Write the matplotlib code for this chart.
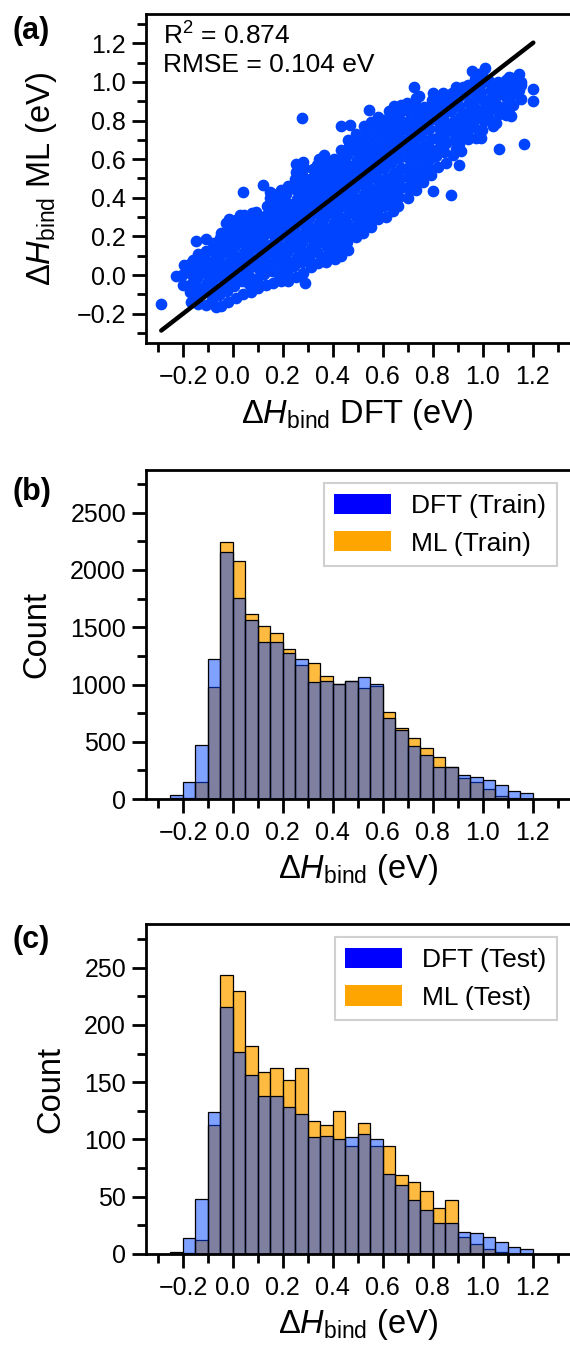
import matplotlib
matplotlib.use('Agg')
import matplotlib.pyplot as plt
from matplotlib.patches import Patch
from matplotlib.ticker import MultipleLocator

plt.rcParams['font.family'] = ['Liberation Sans', 'DejaVu Sans']
plt.rcParams['mathtext.fontset'] = 'custom'
plt.rcParams['mathtext.rm'] = 'Liberation Sans'
plt.rcParams['mathtext.it'] = 'Liberation Sans:italic'
plt.rcParams['mathtext.bf'] = 'Liberation Sans:bold'

# (DFT, ML) pairs
scatter_pts = [
    (-0.287, -0.149), (-0.226, -0.007), (0.040, 0.432), (0.120, 0.467), (0.277, 0.814),
    (0.287, -0.041), (0.433, 0.771), (0.467, 0.779), (0.544, 0.856), (0.593, 0.762),
    (0.727, 0.973), (0.720, 0.446), (0.800, 0.437), (0.873, 0.412), (0.907, 0.571),
    (0.957, 1.056), (1.010, 1.073), (1.067, 0.651), (1.167, 0.680), (1.200, 0.963),
    (1.203, 0.900), (1.153, 0.985), (1.147, 1.041), (1.107, 1.024), (1.113, 0.822),
    (-0.146, 0.176), (-0.109, 0.186), (0.253, 0.574), (0.280, 0.583), (0.363, 0.620),
    (-0.198, -0.05), (-0.204, 0.0), (-0.195, 0.05),
    (-0.168, -0.14), (-0.173, -0.09), (-0.165, -0.04), (-0.171, 0.01), (-0.166, 0.06), (-0.160, 0.08),
    (-0.138, -0.15), (-0.144, -0.115), (-0.135, -0.065), (-0.142, -0.015), (-0.136, 0.035), (-0.145, 0.085), (-0.139, 0.11),
    (-0.108, -0.155), (-0.114, -0.09), (-0.105, -0.04), (-0.112, 0.01), (-0.106, 0.06), (-0.115, 0.10), (-0.109, 0.125),
    (-0.066, -0.166), (-0.083, -0.13), (-0.077, -0.08), (-0.084, -0.03), (-0.079, 0.02), (-0.083, 0.07), (-0.076, 0.12), (-0.081, 0.165),
    (-0.048, -0.16), (-0.054, -0.105), (-0.045, -0.055), (-0.052, -0.005), (-0.046, 0.045), (-0.055, 0.095), (-0.049, 0.145), (-0.051, 0.19), (-0.047, 0.22),
    (-0.018, -0.14), (-0.024, -0.08), (-0.015, -0.03), (-0.022, 0.02), (-0.016, 0.07), (-0.025, 0.12), (-0.019, 0.17), (-0.021, 0.22), (-0.027, 0.27), (-0.017, 0.29),
    (0.012, -0.12), (0.006, -0.055), (0.015, -0.005), (0.008, 0.045), (0.014, 0.095), (0.005, 0.145), (0.011, 0.195), (0.009, 0.245), (0.013, 0.285), (0.027, 0.309),
    (0.042, -0.10), (0.036, -0.03), (0.045, 0.02), (0.038, 0.07), (0.044, 0.12), (0.035, 0.17), (0.041, 0.22), (0.039, 0.27), (0.046, 0.31),
    (0.072, -0.085), (0.066, -0.045), (0.066, -0.005), (0.075, 0.045), (0.068, 0.095), (0.074, 0.145), (0.065, 0.195), (0.071, 0.245), (0.069, 0.29), (0.075, 0.32),
    (0.102, -0.065), (0.096, -0.02), (0.105, 0.03), (0.098, 0.08), (0.104, 0.13), (0.095, 0.18), (0.101, 0.23), (0.099, 0.28), (0.093, 0.327),
    (0.132, -0.05), (0.126, 0.005), (0.135, 0.055), (0.128, 0.105), (0.134, 0.155), (0.125, 0.205), (0.131, 0.255), (0.129, 0.305), (0.136, 0.355), (0.147, 0.40), (0.147, 0.429),
    (0.162, -0.04), (0.156, 0.02), (0.165, 0.07), (0.158, 0.12), (0.164, 0.17), (0.155, 0.22), (0.161, 0.27), (0.159, 0.32), (0.166, 0.37), (0.160, 0.42),
    (0.192, -0.03), (0.186, 0.0), (0.195, 0.045), (0.188, 0.095), (0.194, 0.145), (0.185, 0.195), (0.191, 0.245), (0.189, 0.295), (0.196, 0.345), (0.190, 0.395), (0.193, 0.44),
    (0.222, -0.03), (0.216, 0.02), (0.225, 0.07), (0.218, 0.12), (0.224, 0.17), (0.215, 0.22), (0.221, 0.27), (0.219, 0.32), (0.226, 0.37), (0.213, 0.42), (0.220, 0.463),
    (0.252, -0.01), (0.246, 0.045), (0.255, 0.095), (0.248, 0.145), (0.254, 0.195), (0.245, 0.245), (0.251, 0.295), (0.249, 0.345), (0.256, 0.395), (0.250, 0.445), (0.247, 0.495), (0.253, 0.535),
    (0.282, 0.01), (0.276, 0.07), (0.285, 0.12), (0.278, 0.17), (0.284, 0.22), (0.275, 0.27), (0.281, 0.32), (0.279, 0.37), (0.286, 0.42), (0.280, 0.47), (0.277, 0.52), (0.283, 0.555),
    (0.312, 0.04), (0.306, 0.095), (0.315, 0.145), (0.308, 0.195), (0.314, 0.245), (0.305, 0.295), (0.311, 0.345), (0.309, 0.395), (0.316, 0.445), (0.310, 0.495), (0.320, 0.549),
    (0.342, 0.06), (0.336, 0.12), (0.345, 0.17), (0.338, 0.22), (0.344, 0.27), (0.335, 0.32), (0.341, 0.37), (0.339, 0.42), (0.346, 0.47), (0.340, 0.52), (0.337, 0.57), (0.343, 0.60),
    (0.372, 0.07), (0.366, 0.095), (0.375, 0.145), (0.368, 0.195), (0.374, 0.245), (0.365, 0.295), (0.371, 0.345), (0.369, 0.395), (0.376, 0.445), (0.370, 0.495), (0.367, 0.545), (0.373, 0.59),
    (0.407, 0.082), (0.396, 0.12), (0.405, 0.17), (0.398, 0.22), (0.404, 0.27), (0.395, 0.32), (0.401, 0.37), (0.399, 0.42), (0.406, 0.47), (0.400, 0.52), (0.397, 0.57), (0.403, 0.60),
    (0.432, 0.10), (0.426, 0.145), (0.435, 0.195), (0.428, 0.245), (0.434, 0.295), (0.425, 0.345), (0.431, 0.395), (0.429, 0.445), (0.436, 0.495), (0.430, 0.545), (0.427, 0.595), (0.433, 0.645),
    (0.462, 0.13), (0.456, 0.17), (0.465, 0.22), (0.458, 0.27), (0.464, 0.32), (0.455, 0.37), (0.461, 0.42), (0.459, 0.47), (0.466, 0.52), (0.460, 0.57), (0.457, 0.62), (0.463, 0.67), (0.459, 0.70),
    (0.493, 0.198), (0.486, 0.245), (0.495, 0.295), (0.488, 0.345), (0.494, 0.395), (0.485, 0.445), (0.491, 0.495), (0.489, 0.545), (0.496, 0.595), (0.490, 0.645), (0.487, 0.695), (0.493, 0.73),
    (0.522, 0.22), (0.516, 0.27), (0.525, 0.32), (0.518, 0.37), (0.524, 0.42), (0.515, 0.47), (0.521, 0.52), (0.519, 0.57), (0.526, 0.62), (0.520, 0.67), (0.517, 0.72), (0.523, 0.77),
    (0.552, 0.25), (0.546, 0.295), (0.555, 0.345), (0.548, 0.395), (0.554, 0.445), (0.545, 0.495), (0.551, 0.545), (0.549, 0.595), (0.556, 0.645), (0.550, 0.695), (0.547, 0.745), (0.553, 0.79),
    (0.580, 0.292), (0.576, 0.33), (0.585, 0.38), (0.578, 0.43), (0.584, 0.48), (0.575, 0.53), (0.581, 0.58), (0.579, 0.63), (0.586, 0.68), (0.580, 0.73), (0.577, 0.78), (0.583, 0.82),
    (0.612, 0.30), (0.606, 0.355), (0.615, 0.405), (0.608, 0.455), (0.614, 0.505), (0.605, 0.555), (0.611, 0.605), (0.609, 0.655), (0.616, 0.705), (0.610, 0.755), (0.607, 0.805), (0.627, 0.85),
    (0.642, 0.33), (0.636, 0.38), (0.645, 0.43), (0.638, 0.48), (0.644, 0.53), (0.635, 0.58), (0.641, 0.63), (0.639, 0.68), (0.646, 0.73), (0.640, 0.78), (0.637, 0.83), (0.647, 0.873),
    (0.660, 0.36), (0.666, 0.405), (0.675, 0.455), (0.668, 0.505), (0.674, 0.555), (0.665, 0.605), (0.671, 0.655), (0.669, 0.705), (0.676, 0.755), (0.670, 0.805), (0.673, 0.85), (0.673, 0.88),
    (0.702, 0.40), (0.696, 0.45), (0.705, 0.50), (0.698, 0.55), (0.704, 0.60), (0.695, 0.65), (0.701, 0.70), (0.699, 0.75), (0.706, 0.80), (0.700, 0.85), (0.697, 0.89),
    (0.732, 0.44), (0.726, 0.49), (0.735, 0.535), (0.728, 0.585), (0.734, 0.635), (0.725, 0.685), (0.731, 0.735), (0.729, 0.785), (0.736, 0.835), (0.730, 0.885), (0.733, 0.915),
    (0.762, 0.48), (0.756, 0.52), (0.765, 0.57), (0.758, 0.62), (0.764, 0.67), (0.755, 0.72), (0.761, 0.77), (0.759, 0.82), (0.766, 0.87), (0.747, 0.925),
    (0.792, 0.52), (0.786, 0.555), (0.795, 0.605), (0.788, 0.655), (0.794, 0.705), (0.785, 0.755), (0.791, 0.805), (0.789, 0.855), (0.796, 0.905), (0.800, 0.942),
    (0.822, 0.56), (0.813, 0.617), (0.825, 0.66), (0.818, 0.71), (0.824, 0.76), (0.815, 0.81), (0.821, 0.86), (0.819, 0.90), (0.827, 0.925),
    (0.852, 0.58), (0.846, 0.635), (0.855, 0.685), (0.848, 0.735), (0.854, 0.785), (0.845, 0.835), (0.851, 0.885), (0.840, 0.945), (0.849, 0.93),
    (0.882, 0.62), (0.893, 0.651), (0.885, 0.70), (0.878, 0.75), (0.884, 0.80), (0.875, 0.85), (0.881, 0.90), (0.879, 0.94), (0.893, 0.973),
    (0.912, 0.64), (0.906, 0.68), (0.915, 0.725), (0.908, 0.775), (0.914, 0.825), (0.905, 0.875), (0.911, 0.925), (0.920, 0.975),
    (0.940, 0.703), (0.936, 0.74), (0.945, 0.79), (0.938, 0.84), (0.944, 0.89), (0.935, 0.94), (0.941, 0.985),
    (0.972, 0.71), (0.966, 0.765), (0.975, 0.815), (0.968, 0.865), (0.974, 0.915), (0.965, 0.965), (0.957, 0.981), (0.971, 1.015), (0.978, 1.04),
    (0.993, 0.711), (0.996, 0.75), (1.005, 0.80), (0.998, 0.85), (1.004, 0.90), (0.995, 0.95), (1.001, 1.00), (0.999, 1.045),
    (1.040, 0.771), (1.026, 0.81), (1.035, 0.86), (1.028, 0.91), (1.034, 0.96), (1.025, 1.005),
    (1.053, 0.788), (1.066, 0.835), (1.055, 0.885), (1.064, 0.935), (1.058, 0.975), (1.062, 1.00),
    (1.092, 0.83), (1.086, 0.87), (1.095, 0.92), (1.088, 0.97), (1.094, 1.01),
    (1.107, 0.839), (1.122, 0.88), (1.115, 0.93), (1.124, 0.98), (1.118, 1.02),
    (1.152, 0.91), (1.146, 0.96), (1.155, 1.00),
]
dft_vals = [p[0] for p in scatter_pts]
ml_vals = [p[1] for p in scatter_pts]
r2_text = 'R$^2$ = 0.874\nRMSE = 0.104 eV'

# histogram bins (left edges, width 0.05 eV)
bin_left = [-0.25, -0.20, -0.15, -0.10, -0.05, 0.00, 0.05, 0.10, 0.15, 0.20,
            0.25, 0.30, 0.35, 0.40, 0.45, 0.50, 0.55, 0.60, 0.65, 0.70,
            0.75, 0.80, 0.85, 0.90, 0.95, 1.00, 1.05, 1.10, 1.15]
bin_width = 0.05

train_dft = [35, 151, 471, 1225, 2160, 1758, 1560, 1371, 1374, 1278,
             1219, 1022, 1033, 1001, 1027, 1062, 1001, 704, 600, 466,
             381, 276, 280, 212, 195, 163, 119, 73, 49]
train_ml = [5, 10, 151, 981, 2241, 2081, 1612, 1513, 1449, 1307,
            1170, 1184, 1077, 1001, 1027, 972, 990, 757, 623, 535,
            442, 370, 276, 180, 145, 84, 26, 12, 3]
test_dft = [2, 14, 48, 124, 216, 176, 156, 138, 138, 128,
            122, 102, 103, 100, 102, 105, 100, 70, 60, 47,
            38, 27, 27, 19, 18, 15, 10, 6, 4]
test_ml = [0, 1, 12, 113, 244, 230, 182, 159, 162, 152,
           162, 116, 113, 125, 94, 114, 94, 94, 69, 63,
           55, 40, 47, 15, 9, 4, 2, 0, 0]

blue = '#0044ff'
blue_fill = (0.0, 0.27, 1.0, 0.5)
orange_fill = (1.0, 0.647, 0.0, 0.75)
hlab = r'$\Delta \mathit{H}_\mathrm{bind}$'

fs_tick = 18
fs_lab = 23.5
fs_text = 19

fig = plt.figure(figsize=(5.7, 13.45), dpi=100)


def style_axes(ax, ymaj, ymin):
    ax.spines['right'].set_visible(False)
    for s in ['left', 'bottom', 'top']:
        ax.spines[s].set_linewidth(2.0)
    ax.xaxis.set_major_locator(MultipleLocator(0.2))
    ax.xaxis.set_minor_locator(MultipleLocator(0.1))
    ax.yaxis.set_major_locator(MultipleLocator(ymaj))
    ax.yaxis.set_minor_locator(MultipleLocator(ymin))
    ax.tick_params(which='major', length=10, width=2.0, labelsize=fs_tick, pad=4)
    ax.tick_params(axis='x', which='major', pad=6)
    ax.tick_params(which='minor', length=6.5, width=2.0)
    ax.set_xlim(-0.35, 1.35)


# (a) parity plot
ax1 = fig.add_axes([0.2553, 0.7452, 0.7447, 0.2442])
ax1.scatter(dft_vals, ml_vals, s=55, color=blue, zorder=2)
lo, hi = min(dft_vals), max(dft_vals)
ax1.plot([lo, hi], [lo, hi], color='black', lw=3.2, solid_capstyle='round', zorder=3)
style_axes(ax1, 0.2, 0.1)
ax1.set_ylim(-0.35, 1.35)
ax1.set_xlabel(hlab + ' DFT (eV)', fontsize=fs_lab, labelpad=6)
ax1.set_ylabel(hlab + ' ML (eV)', fontsize=fs_lab, labelpad=13)
ax1.text(0.04, 0.975, r2_text, transform=ax1.transAxes, ha='left', va='top',
         fontsize=fs_text, linespacing=1.15)


def hist_panel(rect, dft, ml, tag, ymaj, ymin, ytop):
    ax = fig.add_axes(rect)
    ax.bar(bin_left, ml, width=bin_width, align='edge', facecolor=orange_fill,
           edgecolor='black', linewidth=0.9)
    ax.bar(bin_left, dft, width=bin_width, align='edge', facecolor=blue_fill,
           edgecolor='black', linewidth=0.9)
    style_axes(ax, ymaj, ymin)
    ax.set_ylim(0, ytop)
    ax.set_xlabel(hlab + ' (eV)', fontsize=fs_lab, labelpad=5)
    ax.set_ylabel('Count', fontsize=fs_lab, labelpad=13)
    handles = [Patch(facecolor='blue', label='DFT (%s)' % tag),
               Patch(facecolor='orange', label='ML (%s)' % tag)]
    leg = ax.legend(handles=handles, loc='upper right', fontsize=fs_text, fancybox=False,
                    handlelength=2.15, handleheight=0.8, handletextpad=0.76,
                    borderaxespad=0.5, framealpha=1)
    leg.get_frame().set_edgecolor('#d0d0d0')
    leg.get_frame().set_linewidth(1.5)
    return ax


ax2 = hist_panel([0.2553, 0.4059, 0.7447, 0.2446], train_dft, train_ml, 'Train', 500, 250, 2872)
ax3 = hist_panel([0.2553, 0.0678, 0.7447, 0.2450], test_dft, test_ml, 'Test', 50, 25, 288)

for lbl, yc in [('(a)', 31), ('(b)', 492), ('(c)', 940)]:
    fig.text(0.022, 1 - yc / 1345, lbl, fontsize=22, fontweight='bold', va='center', ha='left')

fig.savefig('out.png', dpi=100)
